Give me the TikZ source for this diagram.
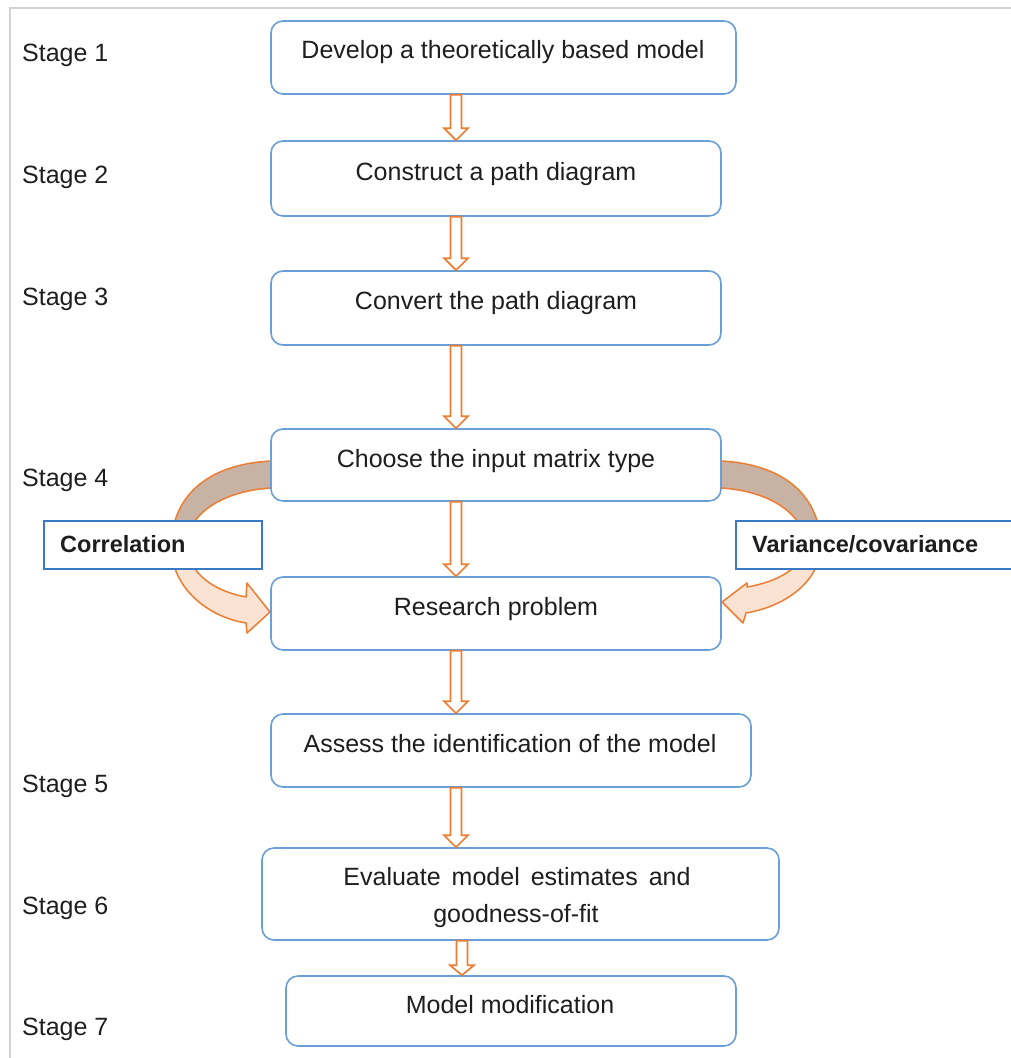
\documentclass[tikz,border=0pt]{standalone}
\usepackage{fontspec}
\setmainfont{Liberation Sans}
\usetikzlibrary{calc}

\definecolor{boxblue}{HTML}{6A9FD8}
\definecolor{labblue}{HTML}{3A78C3}
\definecolor{arrorange}{HTML}{ED7D31}
\definecolor{bandbrown}{HTML}{C8B2A3}
\definecolor{bandpeach}{HTML}{FBE3D3}
\definecolor{inkgray}{HTML}{1E1E1E}
\definecolor{framegray}{HTML}{D2D2D2}

\tikzset{
  stagebox/.style={draw=boxblue, line width=1.6pt, fill=white, rounded corners=12pt, inner sep=0pt},
  labbox/.style={draw=labblue, line width=1.6pt, fill=white, inner sep=0pt},
  boxtext/.style={anchor=base, inner sep=0pt, text=inkgray, font=\fontsize{25}{30}\selectfont},
  stagetext/.style={anchor=base west, inner sep=0pt, text=inkgray, font=\fontsize{25}{30}\selectfont},
  labtext/.style={anchor=base west, inner sep=0pt, text=inkgray, font=\fontsize{23.5}{28}\selectfont\bfseries},
  hollow/.style={draw=arrorange, fill=white, line width=1.7pt, line join=miter},
  band/.style={draw=arrorange, line width=1.5pt, line join=round},
}

% hollow block arrow pointing down: x position, source node, target node, head length
\newcommand\hollowdown[4]{%
  \draw[hollow] let \p1=(#2.south), \p2=(#3.north) in
    ({(#1-5.5)*1pt},\y1) -- ({(#1+5.5)*1pt},\y1) -- ({(#1+5.5)*1pt},{\y2+#4pt})
    -- ({(#1+12)*1pt},{\y2+#4pt}) -- ({#1*1pt},\y2) -- ({(#1-12)*1pt},{\y2+#4pt})
    -- ({(#1-5.5)*1pt},{\y2+#4pt}) -- cycle;}

\begin{document}
\begin{tikzpicture}[x=1pt,y=-1pt]
\useasboundingbox (0,0) rectangle (1011,1058);

% frame
\draw[framegray, line width=2pt] (10,1060) -- (10,8) -- (1013,8);

% curved band on the left (correlation)
\fill[bandbrown, band] (271,461) .. controls (212,464) and (173,492) .. (171,545)
  -- (186,545) .. controls (188,514) and (222,491) .. (271,488) -- cycle;
\fill[bandpeach, band] (171,545) .. controls (171,588) and (208,617) .. (246,623)
  -- (247,633) -- (270,612) -- (247,583) -- (246,597)
  .. controls (214,591) and (189,574) .. (186,545) -- cycle;

% curved band on the right (variance/covariance)
\fill[bandbrown, band] (721,461) .. controls (780,464) and (819,492) .. (821,545)
  -- (806,545) .. controls (804,514) and (770,491) .. (721,488) -- cycle;
\fill[bandpeach, band] (821,545) .. controls (820,584) and (782,607) .. (746,613)
  -- (743,623) -- (722,602) -- (747,583) -- (747,587)
  .. controls (776,582) and (803,569) .. (806,545) -- cycle;

% process boxes
\node[stagebox, minimum width=465pt, minimum height=73pt] (b1) at (503.5,57.5) {};
\node[stagebox, minimum width=450pt, minimum height=75pt] (b2) at (496,178.5) {};
\node[stagebox, minimum width=450pt, minimum height=74pt] (b3) at (496,308) {};
\node[stagebox, minimum width=450pt, minimum height=72pt] (b4) at (496,465) {};
\node[stagebox, minimum width=450pt, minimum height=73pt] (b5) at (496,613.5) {};
\node[stagebox, minimum width=480pt, minimum height=73pt] (b6) at (511,750.5) {};
\node[stagebox, minimum width=517pt, minimum height=92pt] (b7) at (520.5,894) {};
\node[stagebox, minimum width=450pt, minimum height=70pt] (b8) at (511,1011) {};

% box texts
\node[boxtext] (t1) at (503,58) {Develop a theoretically based model};
\node[boxtext] (t2) at (496,180) {Construct a path diagram};
\node[boxtext] (t3) at (496,309) {Convert the path diagram};
\node[boxtext] (t4) at (496,467) {Choose the input matrix type};
\node[boxtext] (t5) at (496,615) {Research problem};
\node[boxtext] (t6) at (510,752) {Assess the identification of the model};
\node[boxtext] (t7a) at (517,885) {Evaluate\hspace{11pt}model\hspace{11pt}estimates\hspace{11pt}and};
\node[boxtext] (t7b) at (516,922) {goodness-of-fit};
\node[boxtext] (t8) at (510,1013) {Model modification};

% stage labels
\node[stagetext] (s1) at (22,61) {Stage 1};
\node[stagetext] (s2) at (22,183) {Stage 2};
\node[stagetext] (s3) at (22,305) {Stage 3};
\node[stagetext] (s4) at (22,486) {Stage 4};
\node[stagetext] (s5) at (22,792) {Stage 5};
\node[stagetext] (s6) at (22,914) {Stage 6};
\node[stagetext] (s7) at (22,1035) {Stage 7};

% matrix type labels
\node[labbox, minimum width=218pt, minimum height=48pt] (corr) at (153,545) {};
\node[labtext] (corrt) at (60,552) {Correlation};
\node[labbox, minimum width=280pt, minimum height=48pt] (cov) at (876,545) {};
\node[labtext] (covt) at (752,552) {Variance/covariance};

% flow arrows
\hollowdown{456}{b1}{b2}{12}
\hollowdown{456}{b2}{b3}{12}
\hollowdown{456}{b3}{b4}{12}
\hollowdown{456}{b4}{b5}{12}
\hollowdown{456}{b5}{b6}{12}
\hollowdown{456}{b6}{b7}{12}
\hollowdown{462}{b7}{b8}{10}
\end{tikzpicture}
\end{document}
